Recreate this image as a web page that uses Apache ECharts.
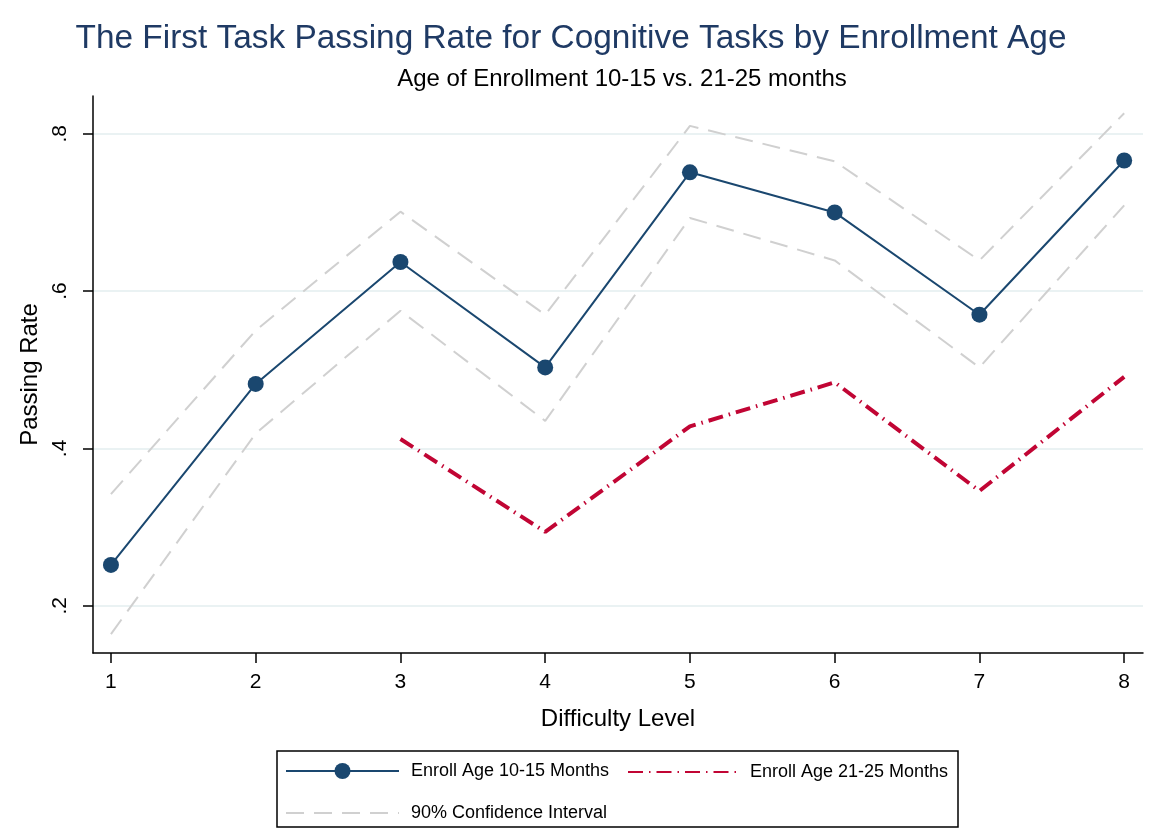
<!DOCTYPE html>
<html>
<head>
<meta charset="utf-8">
<script src="https://cdn.jsdelivr.net/npm/echarts@6/dist/echarts.min.js"></script>
<style>
  html, body { margin: 0; padding: 0; background: #fff; }
  #main { width: 1157px; height: 838px; }
</style>
</head>
<body>
<div id="main"></div>
<script>
// data
var levels = [1, 2, 3, 4, 5, 6, 7, 8];
var rateYoung = [0.252, 0.482, 0.637, 0.503, 0.751, 0.700, 0.570, 0.766];
var ciUpper = [0.342, 0.550, 0.701, 0.570, 0.810, 0.765, 0.639, 0.826];
var ciLower = [0.164, 0.419, 0.575, 0.435, 0.693, 0.639, 0.503, 0.709];
var rateOld = [null, null, 0.412, 0.294, 0.428, 0.484, 0.346, 0.491];
var yTicks = [0.2, 0.4, 0.6, 0.8];

function pairs(vals) {
    var out = [];
    for (var i = 0; i < levels.length; i++) {
        if (vals[i] != null) out.push([levels[i], vals[i]]);
    }
    return out;
}

var font = 'Liberation Sans, Arial, sans-serif';
var ciStyle = { color: '#d0d0d0', width: 2, type: [18, 10] };

var option = {
    backgroundColor: '#fff',
    animation: false,
    textStyle: { fontFamily: font },
    title: [{
        text: 'The First Task Passing Rate for Cognitive Tasks by Enrollment Age',
        left: 566, top: 17, textAlign: 'center',
        textStyle: { fontSize: 33.4, fontWeight: 'normal', color: '#1f3a64', fontFamily: font }
    }, {
        text: 'Age of Enrollment 10-15 vs. 21-25 months',
        left: 617, top: 62, textAlign: 'center',
        textStyle: { fontSize: 24, fontWeight: 'normal', color: '#000', fontFamily: font }
    }],
    grid: { left: 93, right: 14, top: 96, bottom: 185 },
    xAxis: {
        type: 'value',
        min: 0.876, max: 8.13,
        name: 'Difficulty Level',
        nameLocation: 'middle',
        nameGap: 54,
        nameTextStyle: { fontSize: 24, color: '#000' },
        axisLine: { show: true, onZero: false, lineStyle: { color: '#000', width: 1.5 } },
        axisTick: { show: true, customValues: levels, length: 10, lineStyle: { color: '#000', width: 1.5 } },
        axisLabel: { customValues: levels, fontSize: 21, color: '#000', margin: 19 },
        splitLine: { show: false }
    },
    yAxis: {
        type: 'value',
        min: 0.14, max: 0.848,
        name: 'Passing Rate',
        nameLocation: 'middle',
        nameGap: 51,
        nameTextStyle: { fontSize: 24, color: '#000' },
        axisLine: { show: true, onZero: false, lineStyle: { color: '#000', width: 1.5 } },
        axisTick: { show: true, customValues: yTicks, length: 10, lineStyle: { color: '#000', width: 1.5 } },
        axisLabel: {
            customValues: yTicks, fontSize: 21, color: '#000', margin: 22, rotate: 90,
            formatter: function (v) { return String(+v.toFixed(1)).replace(/^0/, ''); }
        },
        splitLine: { show: true, lineStyle: { color: '#eaf2f3', width: 2 } }
    },
    legend: [{
        left: 280, top: 757,
        itemWidth: 113, itemHeight: 20,
        data: ['Enroll Age 10-15 Months'],
        textStyle: { fontSize: 18, color: '#000', padding: [0, 0, 0, 7] }
    }, {
        left: 622, top: 758,
        itemWidth: 114, itemHeight: 16,
        data: [{ name: 'Enroll Age 21-25 Months', itemStyle: { opacity: 0 } }],
        textStyle: { fontSize: 18, color: '#000', padding: [0, 0, 0, 3] }
    }, {
        left: 280, top: 799,
        itemWidth: 113, itemHeight: 16,
        data: [{ name: '90% Confidence Interval', itemStyle: { opacity: 0 } }],
        textStyle: { fontSize: 18, color: '#000', padding: [0, 0, 0, 7] }
    }],
    graphic: [{
        type: 'rect',
        shape: { x: 277, y: 751, width: 681, height: 76 },
        style: { fill: 'none', stroke: '#000', lineWidth: 1.5 },
        silent: true
    }],
    series: [{
        name: '90% Confidence Interval',
        type: 'line',
        data: pairs(ciUpper),
        symbol: 'none',
        lineStyle: ciStyle,
        itemStyle: { color: '#d0d0d0' },
        z: 1
    }, {
        name: '90% Confidence Interval',
        type: 'line',
        data: pairs(ciLower),
        symbol: 'none',
        lineStyle: ciStyle,
        itemStyle: { color: '#d0d0d0' },
        z: 1
    }, {
        name: 'Enroll Age 21-25 Months',
        type: 'line',
        data: pairs(rateOld),
        symbol: 'none',
        lineStyle: { color: '#c10534', width: 4, type: [15, 6, 1.5, 6] },
        itemStyle: { color: '#c10534' },
        z: 2
    }, {
        name: 'Enroll Age 10-15 Months',
        type: 'line',
        data: pairs(rateYoung),
        symbol: 'circle',
        symbolSize: 16,
        lineStyle: { color: '#1a476f', width: 2 },
        itemStyle: { color: '#1a476f' },
        z: 3
    }]
};

var chart = echarts.init(document.getElementById('main'));
chart.setOption(option);
</script>
</body>
</html>
